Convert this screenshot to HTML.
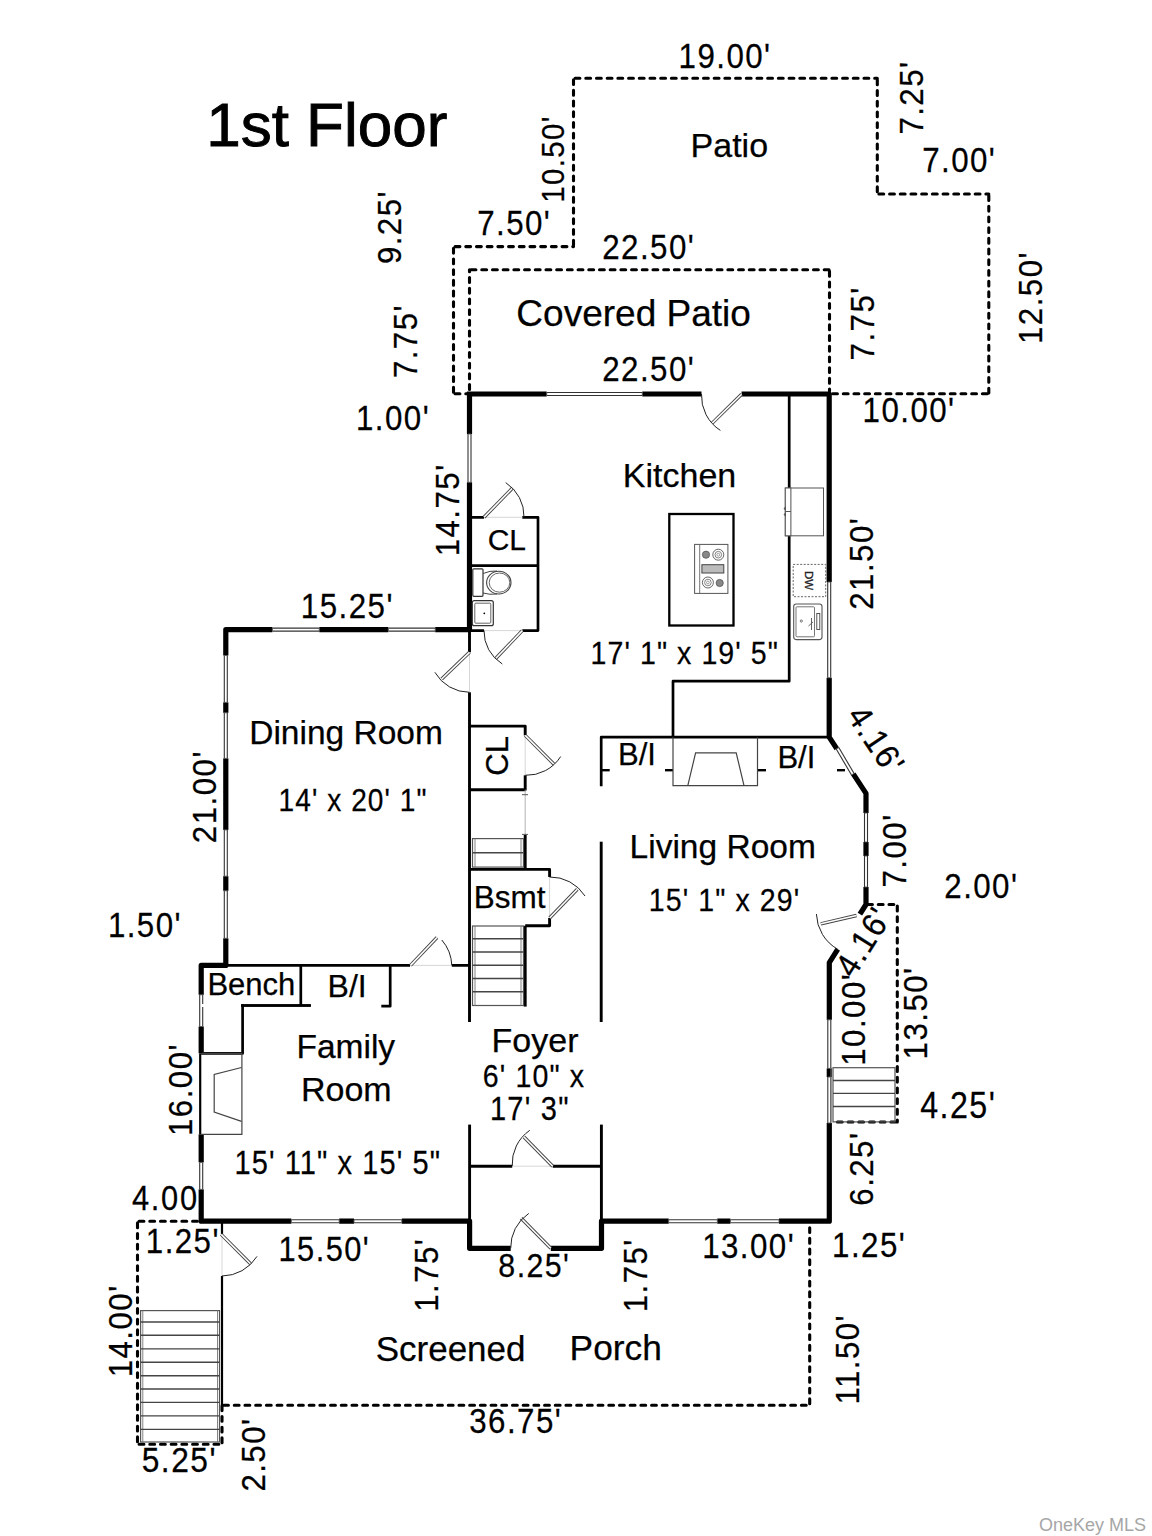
<!DOCTYPE html>
<html><head><meta charset="utf-8"><style>
html,body{margin:0;padding:0;background:#fff;}
svg{display:block;}
text{font-family:"Liberation Sans",sans-serif;}
</style></head><body>
<svg width="1152" height="1536" viewBox="0 0 1152 1536">
<rect width="1152" height="1536" fill="#fff"/>
<path d="M453.5,393.8 L453.5,246.6" fill="none" stroke="#000" stroke-width="3.1" stroke-dasharray="4.8 5.9" stroke-dashoffset="-1.6" stroke-linecap="round"/>
<path d="M453.5,246.6 L573.5,246.6" fill="none" stroke="#000" stroke-width="3.1" stroke-dasharray="4.8 5.9" stroke-dashoffset="-1.6" stroke-linecap="round"/>
<path d="M573.5,246.6 L573.5,78.3" fill="none" stroke="#000" stroke-width="3.1" stroke-dasharray="4.8 5.9" stroke-dashoffset="-1.6" stroke-linecap="round"/>
<path d="M573.5,78.3 L877.3,78.3" fill="none" stroke="#000" stroke-width="3.1" stroke-dasharray="4.8 5.9" stroke-dashoffset="-1.6" stroke-linecap="round"/>
<path d="M877.3,78.3 L877.3,194" fill="none" stroke="#000" stroke-width="3.1" stroke-dasharray="4.8 5.9" stroke-dashoffset="-1.6" stroke-linecap="round"/>
<path d="M877.3,194 L988.8,194" fill="none" stroke="#000" stroke-width="3.1" stroke-dasharray="4.8 5.9" stroke-dashoffset="-1.6" stroke-linecap="round"/>
<path d="M988.8,194 L988.8,393.8" fill="none" stroke="#000" stroke-width="3.1" stroke-dasharray="4.8 5.9" stroke-dashoffset="-1.6" stroke-linecap="round"/>
<path d="M988.8,393.8 L832,393.8" fill="none" stroke="#000" stroke-width="3.1" stroke-dasharray="4.8 5.9" stroke-dashoffset="-1.6" stroke-linecap="round"/>
<path d="M453.5,393.8 L467,393.8" fill="none" stroke="#000" stroke-width="3.1" stroke-dasharray="4.8 5.9" stroke-dashoffset="-1.6" stroke-linecap="round"/>
<path d="M469.5,391 L469.5,269.8" fill="none" stroke="#000" stroke-width="3.1" stroke-dasharray="4.8 5.9" stroke-dashoffset="-1.6" stroke-linecap="round"/>
<path d="M469.5,269.8 L829.5,269.8" fill="none" stroke="#000" stroke-width="3.1" stroke-dasharray="4.8 5.9" stroke-dashoffset="-1.6" stroke-linecap="round"/>
<path d="M829.5,269.8 L829.5,391" fill="none" stroke="#000" stroke-width="3.1" stroke-dasharray="4.8 5.9" stroke-dashoffset="-1.6" stroke-linecap="round"/>
<path d="M866,904.5 L897.3,904.5" fill="none" stroke="#000" stroke-width="3.1" stroke-dasharray="4.8 5.9" stroke-dashoffset="-1.6" stroke-linecap="round"/>
<path d="M897.3,904.5 L897.3,1122" fill="none" stroke="#000" stroke-width="3.1" stroke-dasharray="4.8 5.9" stroke-dashoffset="-1.6" stroke-linecap="round"/>
<path d="M897.3,1122 L833,1122" fill="none" stroke="#000" stroke-width="3.1" stroke-dasharray="4.8 5.9" stroke-dashoffset="-1.6" stroke-linecap="round"/>
<path d="M199,1221.3 L137.5,1221.3" fill="none" stroke="#000" stroke-width="3.1" stroke-dasharray="4.8 5.9" stroke-dashoffset="-1.6" stroke-linecap="round"/>
<path d="M137.5,1221.3 L137.5,1444.3" fill="none" stroke="#000" stroke-width="3.1" stroke-dasharray="4.8 5.9" stroke-dashoffset="-1.6" stroke-linecap="round"/>
<path d="M137.5,1444.3 L222,1444.3" fill="none" stroke="#000" stroke-width="3.1" stroke-dasharray="4.8 5.9" stroke-dashoffset="-1.6" stroke-linecap="round"/>
<path d="M222,1444.3 L222,1405.3" fill="none" stroke="#000" stroke-width="3.1" stroke-dasharray="4.8 5.9" stroke-dashoffset="-1.6" stroke-linecap="round"/>
<path d="M222,1405.3 L809.7,1405.3" fill="none" stroke="#000" stroke-width="3.1" stroke-dasharray="4.8 5.9" stroke-dashoffset="-1.6" stroke-linecap="round"/>
<path d="M809.7,1405.3 L809.7,1224" fill="none" stroke="#000" stroke-width="3.1" stroke-dasharray="4.8 5.9" stroke-dashoffset="-1.6" stroke-linecap="round"/>
<line x1="222" y1="1223" x2="222" y2="1234.4" stroke="#000" stroke-width="2.2" stroke-linecap="butt"/>
<line x1="222" y1="1276" x2="222" y2="1405.3" stroke="#000" stroke-width="2.2" stroke-linecap="butt"/>
<path d="M469.5,394 L829.2,394 L829.2,737.2 L866,793.4 L866,904.5 L829.3,962.6 L829.3,1221.2 L601.5,1221.2 L601.5,1248.3 L469.6,1248.3 L469.6,1221.2 L201.2,1221.2 L201.2,965.4 L225.8,965.4 L225.8,629.6 L469.5,629.6 L469.5,394" fill="none" stroke="#000" stroke-width="5.2" stroke-linejoin="round" stroke-linecap="square"/>
<line x1="546.7" y1="394" x2="642.3" y2="394" stroke="#fff" stroke-width="7.5"/>
<line x1="546.70" y1="392.50" x2="642.30" y2="392.50" stroke="#333" stroke-width="1.1"/>
<line x1="546.70" y1="395.50" x2="642.30" y2="395.50" stroke="#333" stroke-width="1.1"/>
<line x1="546.70" y1="392.50" x2="546.70" y2="395.50" stroke="#555" stroke-width="0.9"/>
<line x1="642.30" y1="392.50" x2="642.30" y2="395.50" stroke="#555" stroke-width="0.9"/>
<line x1="469.5" y1="434" x2="469.5" y2="482.3" stroke="#fff" stroke-width="7.5"/>
<line x1="471.00" y1="434.00" x2="471.00" y2="482.30" stroke="#333" stroke-width="1.1"/>
<line x1="468.00" y1="434.00" x2="468.00" y2="482.30" stroke="#333" stroke-width="1.1"/>
<line x1="471.00" y1="434.00" x2="468.00" y2="434.00" stroke="#555" stroke-width="0.9"/>
<line x1="471.00" y1="482.30" x2="468.00" y2="482.30" stroke="#555" stroke-width="0.9"/>
<line x1="829.2" y1="582" x2="829.2" y2="677.8" stroke="#fff" stroke-width="7.5"/>
<line x1="830.70" y1="582.00" x2="830.70" y2="677.80" stroke="#333" stroke-width="1.1"/>
<line x1="827.70" y1="582.00" x2="827.70" y2="677.80" stroke="#333" stroke-width="1.1"/>
<line x1="830.70" y1="582.00" x2="827.70" y2="582.00" stroke="#555" stroke-width="0.9"/>
<line x1="830.70" y1="677.80" x2="827.70" y2="677.80" stroke="#555" stroke-width="0.9"/>
<line x1="837.5" y1="748.3" x2="852.8" y2="774.2" stroke="#fff" stroke-width="7.5"/>
<line x1="838.79" y1="747.54" x2="854.09" y2="773.44" stroke="#333" stroke-width="1.1"/>
<line x1="836.21" y1="749.06" x2="851.51" y2="774.96" stroke="#333" stroke-width="1.1"/>
<line x1="838.79" y1="747.54" x2="836.21" y2="749.06" stroke="#555" stroke-width="0.9"/>
<line x1="854.09" y1="773.44" x2="851.51" y2="774.96" stroke="#555" stroke-width="0.9"/>
<line x1="866" y1="813" x2="866" y2="842" stroke="#fff" stroke-width="7.5"/>
<line x1="867.50" y1="813.00" x2="867.50" y2="842.00" stroke="#333" stroke-width="1.1"/>
<line x1="864.50" y1="813.00" x2="864.50" y2="842.00" stroke="#333" stroke-width="1.1"/>
<line x1="867.50" y1="813.00" x2="864.50" y2="813.00" stroke="#555" stroke-width="0.9"/>
<line x1="867.50" y1="842.00" x2="864.50" y2="842.00" stroke="#555" stroke-width="0.9"/>
<line x1="866" y1="856" x2="866" y2="887" stroke="#fff" stroke-width="7.5"/>
<line x1="867.50" y1="856.00" x2="867.50" y2="887.00" stroke="#333" stroke-width="1.1"/>
<line x1="864.50" y1="856.00" x2="864.50" y2="887.00" stroke="#333" stroke-width="1.1"/>
<line x1="867.50" y1="856.00" x2="864.50" y2="856.00" stroke="#555" stroke-width="0.9"/>
<line x1="867.50" y1="887.00" x2="864.50" y2="887.00" stroke="#555" stroke-width="0.9"/>
<line x1="829.3" y1="1019.8" x2="829.3" y2="1068.4" stroke="#fff" stroke-width="7.5"/>
<line x1="830.80" y1="1019.80" x2="830.80" y2="1068.40" stroke="#333" stroke-width="1.1"/>
<line x1="827.80" y1="1019.80" x2="827.80" y2="1068.40" stroke="#333" stroke-width="1.1"/>
<line x1="830.80" y1="1019.80" x2="827.80" y2="1019.80" stroke="#555" stroke-width="0.9"/>
<line x1="830.80" y1="1068.40" x2="827.80" y2="1068.40" stroke="#555" stroke-width="0.9"/>
<line x1="829.3" y1="1077" x2="829.3" y2="1123" stroke="#fff" stroke-width="7.5"/>
<line x1="830.80" y1="1077.00" x2="830.80" y2="1123.00" stroke="#333" stroke-width="1.1"/>
<line x1="827.80" y1="1077.00" x2="827.80" y2="1123.00" stroke="#333" stroke-width="1.1"/>
<line x1="830.80" y1="1077.00" x2="827.80" y2="1077.00" stroke="#555" stroke-width="0.9"/>
<line x1="830.80" y1="1123.00" x2="827.80" y2="1123.00" stroke="#555" stroke-width="0.9"/>
<line x1="668.7" y1="1221.2" x2="717.3" y2="1221.2" stroke="#fff" stroke-width="7.5"/>
<line x1="668.70" y1="1219.70" x2="717.30" y2="1219.70" stroke="#333" stroke-width="1.1"/>
<line x1="668.70" y1="1222.70" x2="717.30" y2="1222.70" stroke="#333" stroke-width="1.1"/>
<line x1="668.70" y1="1219.70" x2="668.70" y2="1222.70" stroke="#555" stroke-width="0.9"/>
<line x1="717.30" y1="1219.70" x2="717.30" y2="1222.70" stroke="#555" stroke-width="0.9"/>
<line x1="730.4" y1="1221.2" x2="779" y2="1221.2" stroke="#fff" stroke-width="7.5"/>
<line x1="730.40" y1="1219.70" x2="779.00" y2="1219.70" stroke="#333" stroke-width="1.1"/>
<line x1="730.40" y1="1222.70" x2="779.00" y2="1222.70" stroke="#333" stroke-width="1.1"/>
<line x1="730.40" y1="1219.70" x2="730.40" y2="1222.70" stroke="#555" stroke-width="0.9"/>
<line x1="779.00" y1="1219.70" x2="779.00" y2="1222.70" stroke="#555" stroke-width="0.9"/>
<line x1="291.3" y1="1221.2" x2="339.2" y2="1221.2" stroke="#fff" stroke-width="7.5"/>
<line x1="291.30" y1="1219.70" x2="339.20" y2="1219.70" stroke="#333" stroke-width="1.1"/>
<line x1="291.30" y1="1222.70" x2="339.20" y2="1222.70" stroke="#333" stroke-width="1.1"/>
<line x1="291.30" y1="1219.70" x2="291.30" y2="1222.70" stroke="#555" stroke-width="0.9"/>
<line x1="339.20" y1="1219.70" x2="339.20" y2="1222.70" stroke="#555" stroke-width="0.9"/>
<line x1="354" y1="1221.2" x2="401.8" y2="1221.2" stroke="#fff" stroke-width="7.5"/>
<line x1="354.00" y1="1219.70" x2="401.80" y2="1219.70" stroke="#333" stroke-width="1.1"/>
<line x1="354.00" y1="1222.70" x2="401.80" y2="1222.70" stroke="#333" stroke-width="1.1"/>
<line x1="354.00" y1="1219.70" x2="354.00" y2="1222.70" stroke="#555" stroke-width="0.9"/>
<line x1="401.80" y1="1219.70" x2="401.80" y2="1222.70" stroke="#555" stroke-width="0.9"/>
<line x1="201.2" y1="994.8" x2="201.2" y2="1026.5" stroke="#fff" stroke-width="7.5"/>
<line x1="202.70" y1="994.80" x2="202.70" y2="1026.50" stroke="#333" stroke-width="1.1"/>
<line x1="199.70" y1="994.80" x2="199.70" y2="1026.50" stroke="#333" stroke-width="1.1"/>
<line x1="202.70" y1="994.80" x2="199.70" y2="994.80" stroke="#555" stroke-width="0.9"/>
<line x1="202.70" y1="1026.50" x2="199.70" y2="1026.50" stroke="#555" stroke-width="0.9"/>
<line x1="201.2" y1="1162.4" x2="201.2" y2="1189.4" stroke="#fff" stroke-width="7.5"/>
<line x1="202.70" y1="1162.40" x2="202.70" y2="1189.40" stroke="#333" stroke-width="1.1"/>
<line x1="199.70" y1="1162.40" x2="199.70" y2="1189.40" stroke="#333" stroke-width="1.1"/>
<line x1="202.70" y1="1162.40" x2="199.70" y2="1162.40" stroke="#555" stroke-width="0.9"/>
<line x1="202.70" y1="1189.40" x2="199.70" y2="1189.40" stroke="#555" stroke-width="0.9"/>
<line x1="225.8" y1="655.5" x2="225.8" y2="702.4" stroke="#fff" stroke-width="7.5"/>
<line x1="227.30" y1="655.50" x2="227.30" y2="702.40" stroke="#333" stroke-width="1.1"/>
<line x1="224.30" y1="655.50" x2="224.30" y2="702.40" stroke="#333" stroke-width="1.1"/>
<line x1="227.30" y1="655.50" x2="224.30" y2="655.50" stroke="#555" stroke-width="0.9"/>
<line x1="227.30" y1="702.40" x2="224.30" y2="702.40" stroke="#555" stroke-width="0.9"/>
<line x1="225.8" y1="712.8" x2="225.8" y2="758.4" stroke="#fff" stroke-width="7.5"/>
<line x1="227.30" y1="712.80" x2="227.30" y2="758.40" stroke="#333" stroke-width="1.1"/>
<line x1="224.30" y1="712.80" x2="224.30" y2="758.40" stroke="#333" stroke-width="1.1"/>
<line x1="227.30" y1="712.80" x2="224.30" y2="712.80" stroke="#555" stroke-width="0.9"/>
<line x1="227.30" y1="758.40" x2="224.30" y2="758.40" stroke="#555" stroke-width="0.9"/>
<line x1="225.8" y1="829.9" x2="225.8" y2="876.2" stroke="#fff" stroke-width="7.5"/>
<line x1="227.30" y1="829.90" x2="227.30" y2="876.20" stroke="#333" stroke-width="1.1"/>
<line x1="224.30" y1="829.90" x2="224.30" y2="876.20" stroke="#333" stroke-width="1.1"/>
<line x1="227.30" y1="829.90" x2="224.30" y2="829.90" stroke="#555" stroke-width="0.9"/>
<line x1="227.30" y1="876.20" x2="224.30" y2="876.20" stroke="#555" stroke-width="0.9"/>
<line x1="225.8" y1="890.8" x2="225.8" y2="938.3" stroke="#fff" stroke-width="7.5"/>
<line x1="227.30" y1="890.80" x2="227.30" y2="938.30" stroke="#333" stroke-width="1.1"/>
<line x1="224.30" y1="890.80" x2="224.30" y2="938.30" stroke="#333" stroke-width="1.1"/>
<line x1="227.30" y1="890.80" x2="224.30" y2="890.80" stroke="#555" stroke-width="0.9"/>
<line x1="227.30" y1="938.30" x2="224.30" y2="938.30" stroke="#555" stroke-width="0.9"/>
<line x1="272.4" y1="629.6" x2="319.3" y2="629.6" stroke="#fff" stroke-width="7.5"/>
<line x1="272.40" y1="628.10" x2="319.30" y2="628.10" stroke="#333" stroke-width="1.1"/>
<line x1="272.40" y1="631.10" x2="319.30" y2="631.10" stroke="#333" stroke-width="1.1"/>
<line x1="272.40" y1="628.10" x2="272.40" y2="631.10" stroke="#555" stroke-width="0.9"/>
<line x1="319.30" y1="628.10" x2="319.30" y2="631.10" stroke="#555" stroke-width="0.9"/>
<line x1="388.3" y1="629.6" x2="435.2" y2="629.6" stroke="#fff" stroke-width="7.5"/>
<line x1="388.30" y1="628.10" x2="435.20" y2="628.10" stroke="#333" stroke-width="1.1"/>
<line x1="388.30" y1="631.10" x2="435.20" y2="631.10" stroke="#333" stroke-width="1.1"/>
<line x1="388.30" y1="628.10" x2="388.30" y2="631.10" stroke="#555" stroke-width="0.9"/>
<line x1="435.20" y1="628.10" x2="435.20" y2="631.10" stroke="#555" stroke-width="0.9"/>
<line x1="201.2" y1="1053.4" x2="201.2" y2="1134.3" stroke="#fff" stroke-width="7.5"/>
<line x1="200.2" y1="1053.4" x2="200.2" y2="1134.3" stroke="#000" stroke-width="2.2" stroke-linecap="butt"/>
<path d="M469.5,629.6 L469.5,1022" fill="none" stroke="#000" stroke-width="2.9" stroke-linejoin="round" stroke-linecap="butt"/>
<path d="M469.6,1124.6 L469.6,1221.2" fill="none" stroke="#000" stroke-width="2.9" stroke-linejoin="round" stroke-linecap="butt"/>
<path d="M601.4,1124.6 L601.4,1221.2" fill="none" stroke="#000" stroke-width="2.9" stroke-linejoin="round" stroke-linecap="butt"/>
<path d="M601.2,841.7 L601.2,1022" fill="none" stroke="#000" stroke-width="2.9" stroke-linejoin="round" stroke-linecap="butt"/>
<path d="M469.6,1166.2 L601.4,1166.2" fill="none" stroke="#000" stroke-width="2.9" stroke-linejoin="round" stroke-linecap="butt"/>
<path d="M789.2,394 L789.2,681.2 L673,681.2 L673,737.2" fill="none" stroke="#000" stroke-width="2.7" stroke-linejoin="round" stroke-linecap="butt"/>
<path d="M601.2,786.3 L601.2,737.2 L828.4,737.2" fill="none" stroke="#000" stroke-width="2.7" stroke-linejoin="round" stroke-linecap="butt"/>
<line x1="601.2" y1="770.2" x2="609.7" y2="770.2" stroke="#000" stroke-width="2.4" stroke-linecap="butt"/>
<line x1="665" y1="770.2" x2="673" y2="770.2" stroke="#000" stroke-width="2.4" stroke-linecap="butt"/>
<line x1="757.5" y1="770.2" x2="766" y2="770.2" stroke="#000" stroke-width="2.4" stroke-linecap="butt"/>
<line x1="837" y1="770.2" x2="845" y2="770.2" stroke="#000" stroke-width="2.4" stroke-linecap="butt"/>
<path d="M673,737.2 V785.6 H757.5 V737.2" fill="none" stroke="#444" stroke-width="1.2"/>
<path d="M687.8,785.6 L695.6,752.8 H736.2 L744,785.6" fill="none" stroke="#444" stroke-width="1.2"/>
<path d="M469.5,517.3 L538,517.3 L538,630.6 L469.5,630.6" fill="none" stroke="#000" stroke-width="2.7" stroke-linejoin="round" stroke-linecap="butt"/>
<line x1="469.5" y1="565.7" x2="538" y2="565.7" stroke="#000" stroke-width="2.7" stroke-linecap="butt"/>
<line x1="484" y1="517.3" x2="522.3" y2="517.3" stroke="#fff" stroke-width="5"/>
<line x1="484" y1="517.3" x2="522.3" y2="517.3" stroke="#ccc" stroke-width="0.8"/>
<line x1="484" y1="630.6" x2="522.3" y2="630.6" stroke="#fff" stroke-width="5"/>
<line x1="484" y1="630.6" x2="522.3" y2="630.6" stroke="#ccc" stroke-width="0.8"/>
<line x1="484" y1="517.3" x2="512.3" y2="488.3" stroke="#444" stroke-width="3.4"/>
<line x1="484" y1="517.3" x2="512.3" y2="488.3" stroke="#fff" stroke-width="1.6"/>
<path d="M505.7,482.6 A40,40 0 0 1 524,517.3" fill="none" stroke="#222" stroke-width="1"/>
<line x1="522.3" y1="630.6" x2="495.7" y2="658.5" stroke="#444" stroke-width="3.4"/>
<line x1="522.3" y1="630.6" x2="495.7" y2="658.5" stroke="#fff" stroke-width="1.6"/>
<path d="M484,630.6 A38.5,38.5 0 0 0 502.3,664" fill="none" stroke="#222" stroke-width="1"/>
<rect x="472.8" y="568.8" width="10.2" height="27.5" rx="1" fill="none" stroke="#333" stroke-width="1.2"/>
<path d="M483,573.5 Q490,570.5 497,571 M483,593 Q490,595 497,594" fill="none" stroke="#444" stroke-width="1"/>
<ellipse cx="498.8" cy="582.6" rx="12.2" ry="11.4" fill="none" stroke="#444" stroke-width="1.1"/>
<ellipse cx="499.5" cy="582.6" rx="10.3" ry="9.6" fill="none" stroke="#555" stroke-width="0.9"/>
<rect x="472.3" y="600.7" width="21" height="25" rx="2" fill="none" stroke="#333" stroke-width="1.2"/>
<rect x="474.8" y="603.2" width="16" height="20" rx="1" fill="none" stroke="#555" stroke-width="0.9"/>
<circle cx="484.3" cy="613.3" r="0.9" fill="#000"/>
<line x1="469.5" y1="652.3" x2="469.5" y2="692.3" stroke="#fff" stroke-width="5"/>
<line x1="469.5" y1="652.3" x2="469.5" y2="692.3" stroke="#ccc" stroke-width="0.8"/>
<line x1="469.5" y1="652.3" x2="441.7" y2="679" stroke="#444" stroke-width="3.4"/>
<line x1="469.5" y1="652.3" x2="441.7" y2="679" stroke="#fff" stroke-width="1.6"/>
<path d="M469.5,692.3 A40,40 0 0 1 434.9,672.3" fill="none" stroke="#222" stroke-width="1"/>
<line x1="701.5" y1="394" x2="741.6" y2="394" stroke="#fff" stroke-width="7.5"/>
<line x1="741.6" y1="394.3" x2="712.2" y2="423.1" stroke="#444" stroke-width="3.4"/>
<line x1="741.6" y1="394.3" x2="712.2" y2="423.1" stroke="#fff" stroke-width="1.6"/>
<path d="M701.5,394 A41,41 0 0 0 720.4,430.4" fill="none" stroke="#222" stroke-width="1"/>
<path d="M469.5,726.1 L525.2,726.1 L525.2,789.7 L469.5,789.7" fill="none" stroke="#000" stroke-width="2.9" stroke-linejoin="round" stroke-linecap="butt"/>
<line x1="525.2" y1="735.4" x2="525.2" y2="775.3" stroke="#fff" stroke-width="5"/>
<line x1="525.2" y1="735.4" x2="525.2" y2="775.3" stroke="#ccc" stroke-width="0.8"/>
<line x1="525.2" y1="735.4" x2="554" y2="764.2" stroke="#444" stroke-width="3.4"/>
<line x1="525.2" y1="735.4" x2="554" y2="764.2" stroke="#fff" stroke-width="1.6"/>
<path d="M560.7,756.5 A40.5,40.5 0 0 1 525.2,775.3" fill="none" stroke="#222" stroke-width="1"/>
<line x1="525.2" y1="789.7" x2="525.2" y2="835" stroke="#aaa" stroke-width="0.9" stroke-linecap="butt"/>
<line x1="522" y1="794.7" x2="528" y2="794.7" stroke="#555" stroke-width="1" stroke-linecap="butt"/>
<line x1="522" y1="834.4" x2="528" y2="834.4" stroke="#555" stroke-width="1" stroke-linecap="butt"/>
<path d="M525.2,835 L525.2,869.4" fill="none" stroke="#000" stroke-width="2.9" stroke-linejoin="round" stroke-linecap="butt"/>
<rect x="472.5" y="838.6" width="51" height="28.5" fill="none" stroke="#555" stroke-width="1.2"/>
<line x1="475" y1="838.6" x2="475" y2="867.1" stroke="#777" stroke-width="0.9" stroke-linecap="butt"/>
<line x1="521" y1="838.6" x2="521" y2="867.1" stroke="#777" stroke-width="0.9" stroke-linecap="butt"/>
<line x1="472.5" y1="852.8" x2="523.5" y2="852.8" stroke="#444" stroke-width="1.4" stroke-linecap="butt"/>
<path d="M469.5,869.4 L549.6,869.4 L549.6,925.8 L525.2,925.8" fill="none" stroke="#000" stroke-width="2.9" stroke-linejoin="round" stroke-linecap="butt"/>
<line x1="549.6" y1="877" x2="549.6" y2="918" stroke="#fff" stroke-width="5"/>
<line x1="549.6" y1="877" x2="549.6" y2="918" stroke="#ccc" stroke-width="0.8"/>
<line x1="549.6" y1="918" x2="577.3" y2="889.3" stroke="#444" stroke-width="3.4"/>
<line x1="549.6" y1="918" x2="577.3" y2="889.3" stroke="#fff" stroke-width="1.6"/>
<path d="M549.6,877 A41,41 0 0 1 585,896" fill="none" stroke="#222" stroke-width="1"/>
<path d="M525.2,925.8 L525.2,1006.6" fill="none" stroke="#000" stroke-width="2.9" stroke-linejoin="round" stroke-linecap="butt"/>
<rect x="472.5" y="926" width="51" height="79.5" fill="none" stroke="#555" stroke-width="1.2"/>
<line x1="475" y1="926" x2="475" y2="1005.5" stroke="#777" stroke-width="0.9" stroke-linecap="butt"/>
<line x1="521" y1="926" x2="521" y2="1005.5" stroke="#777" stroke-width="0.9" stroke-linecap="butt"/>
<line x1="472.5" y1="938.7" x2="523.5" y2="938.7" stroke="#444" stroke-width="1.4" stroke-linecap="butt"/>
<line x1="472.5" y1="952" x2="523.5" y2="952" stroke="#444" stroke-width="1.4" stroke-linecap="butt"/>
<line x1="472.5" y1="965.2" x2="523.5" y2="965.2" stroke="#444" stroke-width="1.4" stroke-linecap="butt"/>
<line x1="472.5" y1="978.5" x2="523.5" y2="978.5" stroke="#444" stroke-width="1.4" stroke-linecap="butt"/>
<line x1="472.5" y1="991.8" x2="523.5" y2="991.8" stroke="#444" stroke-width="1.4" stroke-linecap="butt"/>
<path d="M225.8,965.4 L469.5,965.4" fill="none" stroke="#000" stroke-width="2.9" stroke-linejoin="round" stroke-linecap="butt"/>
<line x1="410" y1="965.4" x2="451.8" y2="965.4" stroke="#fff" stroke-width="5"/>
<line x1="410" y1="965.4" x2="451.8" y2="965.4" stroke="#ccc" stroke-width="0.8"/>
<line x1="410.5" y1="965.4" x2="437" y2="937.5" stroke="#444" stroke-width="3.4"/>
<line x1="410.5" y1="965.4" x2="437" y2="937.5" stroke="#fff" stroke-width="1.6"/>
<path d="M441.8,940 A41,41 0 0 1 451.8,965.4" fill="none" stroke="#222" stroke-width="1"/>
<path d="M300.8,965.4 L300.8,1005.5" fill="none" stroke="#000" stroke-width="2.7" stroke-linejoin="round" stroke-linecap="butt"/>
<path d="M201.2,1005.5 L310.8,1005.5" fill="none" stroke="#000" stroke-width="2.7" stroke-linejoin="round" stroke-linecap="butt"/>
<rect x="201" y="1004" width="40" height="3" fill="#fff"/>
<path d="M241.6,1005.5 L310.8,1005.5" fill="none" stroke="#000" stroke-width="2.7" stroke-linejoin="round" stroke-linecap="butt"/>
<path d="M242.6,1004.2 L242.6,1053.4 L201.2,1053.4" fill="none" stroke="#000" stroke-width="2.7" stroke-linejoin="round" stroke-linecap="butt"/>
<path d="M381.3,1006.2 L390.2,1006.2 L390.2,965.4" fill="none" stroke="#000" stroke-width="2.7" stroke-linejoin="round" stroke-linecap="butt"/>
<path d="M201.5,1053.4 H241.9 V1134.3 H201.5" fill="none" stroke="#444" stroke-width="1.2"/>
<path d="M241.5,1067.5 L214.2,1074.5 V1112 L241.5,1121.4" fill="none" stroke="#444" stroke-width="1.2"/>
<line x1="512.2" y1="1166.2" x2="552.7" y2="1166.2" stroke="#fff" stroke-width="5"/>
<line x1="512.2" y1="1166.2" x2="552.7" y2="1166.2" stroke="#ccc" stroke-width="0.8"/>
<line x1="552.7" y1="1166.2" x2="524" y2="1137" stroke="#444" stroke-width="3.4"/>
<line x1="552.7" y1="1166.2" x2="524" y2="1137" stroke="#fff" stroke-width="1.6"/>
<path d="M529.8,1130.3 A41,41 0 0 0 512.2,1166.2" fill="none" stroke="#222" stroke-width="1"/>
<line x1="510.7" y1="1248.3" x2="550.8" y2="1248.3" stroke="#fff" stroke-width="7.5"/>
<line x1="550.8" y1="1248.3" x2="521.2" y2="1218.2" stroke="#444" stroke-width="3.4"/>
<line x1="550.8" y1="1248.3" x2="521.2" y2="1218.2" stroke="#fff" stroke-width="1.6"/>
<path d="M528.8,1213.4 A41,41 0 0 0 510.7,1248.3" fill="none" stroke="#222" stroke-width="1"/>
<line x1="859.7" y1="914" x2="837.8" y2="949.3" stroke="#fff" stroke-width="7.5"/>
<line x1="856.5" y1="915.5" x2="820.8" y2="923.8" stroke="#444" stroke-width="3.4"/>
<line x1="856.5" y1="915.5" x2="820.8" y2="923.8" stroke="#fff" stroke-width="1.6"/>
<path d="M816.4,914 A42,42 0 0 0 837.8,949.3" fill="none" stroke="#222" stroke-width="1"/>
<rect x="833" y="1067.7" width="62" height="54.2" fill="none" stroke="#555" stroke-width="1.2"/>
<line x1="831" y1="1067.7" x2="831" y2="1121.9" stroke="#777" stroke-width="0.9" stroke-linecap="butt"/>
<line x1="833" y1="1080.5" x2="895" y2="1080.5" stroke="#444" stroke-width="1.4" stroke-linecap="butt"/>
<line x1="833" y1="1093.4" x2="895" y2="1093.4" stroke="#444" stroke-width="1.4" stroke-linecap="butt"/>
<line x1="833" y1="1106.5" x2="895" y2="1106.5" stroke="#444" stroke-width="1.4" stroke-linecap="butt"/>
<rect x="140.6" y="1310.6" width="78.9" height="131.4" fill="none" stroke="#555" stroke-width="1.2"/>
<line x1="142.8" y1="1310.6" x2="142.8" y2="1442" stroke="#777" stroke-width="0.9" stroke-linecap="butt"/>
<line x1="217.5" y1="1310.6" x2="217.5" y2="1442" stroke="#777" stroke-width="0.9" stroke-linecap="butt"/>
<line x1="140.6" y1="1322" x2="219.5" y2="1322" stroke="#444" stroke-width="1.4" stroke-linecap="butt"/>
<line x1="140.6" y1="1335.3" x2="219.5" y2="1335.3" stroke="#444" stroke-width="1.4" stroke-linecap="butt"/>
<line x1="140.6" y1="1348.9" x2="219.5" y2="1348.9" stroke="#444" stroke-width="1.4" stroke-linecap="butt"/>
<line x1="140.6" y1="1362.2" x2="219.5" y2="1362.2" stroke="#444" stroke-width="1.4" stroke-linecap="butt"/>
<line x1="140.6" y1="1375.7" x2="219.5" y2="1375.7" stroke="#444" stroke-width="1.4" stroke-linecap="butt"/>
<line x1="140.6" y1="1389" x2="219.5" y2="1389" stroke="#444" stroke-width="1.4" stroke-linecap="butt"/>
<line x1="140.6" y1="1402.4" x2="219.5" y2="1402.4" stroke="#444" stroke-width="1.4" stroke-linecap="butt"/>
<line x1="140.6" y1="1415.9" x2="219.5" y2="1415.9" stroke="#444" stroke-width="1.4" stroke-linecap="butt"/>
<line x1="140.6" y1="1429.4" x2="219.5" y2="1429.4" stroke="#444" stroke-width="1.4" stroke-linecap="butt"/>
<line x1="222" y1="1234.4" x2="222" y2="1276" stroke="#fff" stroke-width="3"/>
<line x1="222" y1="1234.4" x2="222" y2="1276" stroke="#ccc" stroke-width="0.8"/>
<line x1="221.2" y1="1234.4" x2="250.5" y2="1263.7" stroke="#444" stroke-width="3.4"/>
<line x1="221.2" y1="1234.4" x2="250.5" y2="1263.7" stroke="#fff" stroke-width="1.6"/>
<path d="M257,1256.4 A41.6,41.6 0 0 1 222,1276" fill="none" stroke="#222" stroke-width="1"/>
<rect x="669.3" y="514" width="64.2" height="111.5" fill="none" stroke="#000" stroke-width="2.3"/>
<rect x="694.6" y="544.4" width="33.3" height="49" fill="none" stroke="#555" stroke-width="1"/>
<line x1="699.7" y1="544.4" x2="699.7" y2="593.4" stroke="#666" stroke-width="0.9" stroke-linecap="butt"/>
<circle cx="706" cy="554.7" r="3.6" fill="#888" stroke="#555" stroke-width="0.8"/>
<circle cx="718.3" cy="554.7" r="5.5" fill="none" stroke="#555" stroke-width="0.9"/>
<circle cx="718.3" cy="554.7" r="3.30" fill="none" stroke="#666" stroke-width="0.8"/>
<circle cx="718.3" cy="554.7" r="1.38" fill="none" stroke="#777" stroke-width="0.7"/>
<circle cx="707.9" cy="582.5" r="5.5" fill="none" stroke="#555" stroke-width="0.9"/>
<circle cx="707.9" cy="582.5" r="3.30" fill="none" stroke="#666" stroke-width="0.8"/>
<circle cx="707.9" cy="582.5" r="1.38" fill="none" stroke="#777" stroke-width="0.7"/>
<circle cx="719.7" cy="583" r="3.6" fill="#888" stroke="#555" stroke-width="0.8"/>
<rect x="701.9" y="564.7" width="21.9" height="8.3" fill="#bbb" stroke="#444" stroke-width="1"/>
<rect x="785.3" y="488" width="38.2" height="47.8" fill="none" stroke="#555" stroke-width="1"/>
<rect x="785.3" y="488" width="5.6" height="47.8" fill="#fff" stroke="#555" stroke-width="1"/>
<line x1="785.3" y1="511.5" x2="790.9" y2="511.5" stroke="#555" stroke-width="1" stroke-linecap="butt"/>
<path d="M783.5,508.5 L786,506 L786,511 Z M783.5,514.5 L786,512 L786,517 Z" fill="#555"/>
<rect x="793.2" y="564.4" width="32.5" height="32.3" fill="none" stroke="#666" stroke-width="1" stroke-dasharray="2 1.5"/>
<text x="0" y="0" font-size="11.5" text-anchor="middle" fill="#222" stroke="#222" stroke-width="0.35" transform="translate(809.3 580.5) rotate(90) translate(0 4)">DW</text>
<rect x="793.7" y="604" width="28.3" height="35.6" rx="2.5" fill="none" stroke="#555" stroke-width="1.1"/>
<rect x="796" y="606.8" width="18.5" height="30" rx="1" fill="none" stroke="#666" stroke-width="0.9"/>
<rect x="816.8" y="613.5" width="3" height="16" fill="none" stroke="#444" stroke-width="0.9"/>
<circle cx="801.3" cy="621" r="1.1" fill="none" stroke="#555" stroke-width="0.8"/>
<path d="M808.5,626 L813,622 M811.5,618 V630" fill="none" stroke="#555" stroke-width="0.9"/>
<text x="326.8" y="146.1" font-size="62" text-anchor="middle" stroke="#000" stroke-width="0.9">1st Floor</text>
<text x="0.7965" y="0" font-size="34" text-anchor="middle" letter-spacing="1.593" stroke="#000" stroke-width="0.25" transform="translate(724.3 68.3) scale(0.92 1.03)">19.00'</text>
<text x="0.0" y="0" font-size="34" text-anchor="middle" stroke="#000" stroke-width="0.25" transform="translate(729.3 157.3) scale(1.0 1.0)">Patio</text>
<text x="0.7895" y="0" font-size="34" text-anchor="middle" letter-spacing="1.579" stroke="#000" stroke-width="0.25" transform="translate(958.5 171.7) scale(0.92 1.03)">7.00'</text>
<text x="0.7895" y="0" font-size="34" text-anchor="middle" letter-spacing="1.579" stroke="#000" stroke-width="0.25" transform="translate(513.5 235) scale(0.92 1.03)">7.50'</text>
<text x="0.7965" y="0" font-size="34" text-anchor="middle" letter-spacing="1.593" stroke="#000" stroke-width="0.25" transform="translate(648 259.3) scale(0.92 1.03)">22.50'</text>
<text x="0.0" y="0" font-size="37" text-anchor="middle" stroke="#000" stroke-width="0.25" transform="translate(633.6 326) scale(1.0 1.0)">Covered Patio</text>
<text x="0.7965" y="0" font-size="34" text-anchor="middle" letter-spacing="1.593" stroke="#000" stroke-width="0.25" transform="translate(648 381) scale(0.92 1.03)">22.50'</text>
<text x="0.7965" y="0" font-size="34" text-anchor="middle" letter-spacing="1.593" stroke="#000" stroke-width="0.25" transform="translate(908.3 421.8) scale(0.92 1.03)">10.00'</text>
<text x="0.7895" y="0" font-size="34" text-anchor="middle" letter-spacing="1.579" stroke="#000" stroke-width="0.25" transform="translate(392.3 430) scale(0.92 1.03)">1.00'</text>
<text x="0.0" y="0" font-size="34" text-anchor="middle" stroke="#000" stroke-width="0.25" transform="translate(679.5 486.7) scale(1.0 1.0)">Kitchen</text>
<text x="0.5815" y="0" font-size="31" text-anchor="middle" letter-spacing="1.163" stroke="#000" stroke-width="0.25" transform="translate(684.2 663.5) scale(0.92 1.03)">17' 1&quot; x 19' 5&quot;</text>
<text x="0.0" y="0" font-size="30" text-anchor="middle" stroke="#000" stroke-width="0.25" transform="translate(506.8 550) scale(1.0 1.0)">CL</text>
<text x="0.7965" y="0" font-size="34" text-anchor="middle" letter-spacing="1.593" stroke="#000" stroke-width="0.25" transform="translate(346.6 617.8) scale(0.92 1.03)">15.25'</text>
<text x="0.0" y="0" font-size="33.5" text-anchor="middle" stroke="#000" stroke-width="0.25" transform="translate(346 743.5) scale(1.0 1.0)">Dining Room</text>
<text x="0.585" y="0" font-size="30.5" text-anchor="middle" letter-spacing="1.17" stroke="#000" stroke-width="0.25" transform="translate(352.5 811.2) scale(0.92 1.03)">14' x 20' 1&quot;</text>
<text x="0.0" y="0" font-size="33.5" text-anchor="middle" stroke="#000" stroke-width="0.25" transform="translate(722.7 857.5) scale(1.0 1.0)">Living Room</text>
<text x="0.5945" y="0" font-size="31" text-anchor="middle" letter-spacing="1.189" stroke="#000" stroke-width="0.25" transform="translate(724 910.6) scale(0.92 1.03)">15' 1&quot; x 29'</text>
<text x="0.0" y="0" font-size="31" text-anchor="middle" stroke="#000" stroke-width="0.25" transform="translate(637 764.6) scale(1.0 1.0)">B/I</text>
<text x="0.0" y="0" font-size="31" text-anchor="middle" stroke="#000" stroke-width="0.25" transform="translate(796.4 767.5) scale(1.0 1.0)">B/I</text>
<text x="0.0" y="0" font-size="31.5" text-anchor="middle" stroke="#000" stroke-width="0.25" transform="translate(509.7 908.1) scale(1.0 1.0)">Bsmt</text>
<text x="0.7895" y="0" font-size="34" text-anchor="middle" letter-spacing="1.579" stroke="#000" stroke-width="0.25" transform="translate(144.2 937.4) scale(0.92 1.03)">1.50'</text>
<text x="0.7895" y="0" font-size="34" text-anchor="middle" letter-spacing="1.579" stroke="#000" stroke-width="0.25" transform="translate(980.6 898.2) scale(0.92 1.03)">2.00'</text>
<text x="0.0" y="0" font-size="31" text-anchor="middle" stroke="#000" stroke-width="0.25" transform="translate(251.4 994.9) scale(1.0 1.0)">Bench</text>
<text x="0.0" y="0" font-size="32" text-anchor="middle" stroke="#000" stroke-width="0.25" transform="translate(347.1 997.4) scale(1.0 1.0)">B/I</text>
<text x="0.0" y="0" font-size="33.5" text-anchor="middle" stroke="#000" stroke-width="0.25" transform="translate(345.8 1057.8) scale(1.0 1.0)">Family</text>
<text x="0.0" y="0" font-size="34" text-anchor="middle" stroke="#000" stroke-width="0.25" transform="translate(346.3 1100.6) scale(1.0 1.0)">Room</text>
<text x="0.5955" y="0" font-size="31.5" text-anchor="middle" letter-spacing="1.191" stroke="#000" stroke-width="0.25" transform="translate(337.3 1174.1) scale(0.92 1.03)">15' 11&quot; x 15' 5&quot;</text>
<text x="0.0" y="0" font-size="34" text-anchor="middle" stroke="#000" stroke-width="0.25" transform="translate(535 1052.4) scale(1.0 1.0)">Foyer</text>
<text x="0.6295" y="0" font-size="31" text-anchor="middle" letter-spacing="1.259" stroke="#000" stroke-width="0.25" transform="translate(533.4 1087.3) scale(0.92 1.03)">6' 10&quot; x</text>
<text x="0.6825" y="0" font-size="31.5" text-anchor="middle" letter-spacing="1.365" stroke="#000" stroke-width="0.25" transform="translate(529.2 1119.8) scale(0.92 1.03)">17' 3&quot;</text>
<text x="0.8125" y="0" font-size="35" text-anchor="middle" letter-spacing="1.625" stroke="#000" stroke-width="0.25" transform="translate(957.5 1118.2) scale(0.92 1.03)">4.25'</text>
<text x="0.9455" y="0" font-size="33.5" text-anchor="middle" letter-spacing="1.891" stroke="#000" stroke-width="0.25" transform="translate(164.5 1210.3) scale(0.92 1.03)">4.00</text>
<text x="0.7895" y="0" font-size="34" text-anchor="middle" letter-spacing="1.579" stroke="#000" stroke-width="0.25" transform="translate(182.1 1252.5) scale(0.92 1.03)">1.25'</text>
<text x="0.785" y="0" font-size="33.5" text-anchor="middle" letter-spacing="1.57" stroke="#000" stroke-width="0.25" transform="translate(323.6 1260.7) scale(0.92 1.03)">15.50'</text>
<text x="0.7665" y="0" font-size="33" text-anchor="middle" letter-spacing="1.533" stroke="#000" stroke-width="0.25" transform="translate(533.6 1277.4) scale(0.92 1.03)">8.25'</text>
<text x="0.7965" y="0" font-size="34" text-anchor="middle" letter-spacing="1.593" stroke="#000" stroke-width="0.25" transform="translate(747.9 1257.8) scale(0.92 1.03)">13.00'</text>
<text x="0.7895" y="0" font-size="34" text-anchor="middle" letter-spacing="1.579" stroke="#000" stroke-width="0.25" transform="translate(868.4 1257) scale(0.92 1.03)">1.25'</text>
<text x="0.0" y="0" font-size="35" text-anchor="middle" stroke="#000" stroke-width="0.25" transform="translate(450.6 1360.8) scale(1.0 1.0)">Screened</text>
<text x="0.0" y="0" font-size="35.3" text-anchor="middle" stroke="#000" stroke-width="0.25" transform="translate(615.7 1359.5) scale(1.0 1.0)">Porch</text>
<text x="0.7965" y="0" font-size="34" text-anchor="middle" letter-spacing="1.593" stroke="#000" stroke-width="0.25" transform="translate(515 1432.8) scale(0.92 1.03)">36.75'</text>
<text x="0.8015" y="0" font-size="34.5" text-anchor="middle" letter-spacing="1.603" stroke="#000" stroke-width="0.25" transform="translate(178.6 1471.8) scale(0.92 1.03)">5.25'</text>
<text x="1092.5" y="1531" font-size="18" text-anchor="middle" fill="#a6a6a6">OneKey MLS</text>
<text x="0.75" y="0" font-size="32" text-anchor="middle" letter-spacing="1.5" stroke="#000" stroke-width="0.25" transform="translate(552.5 159.7) rotate(-90) translate(0 11.46) scale(0.92 1.0)">10.50'</text>
<text x="0.7895" y="0" font-size="34" text-anchor="middle" letter-spacing="1.579" stroke="#000" stroke-width="0.25" transform="translate(389.3 227.8) rotate(-90) translate(0 12.17) scale(0.92 1.0)">9.25'</text>
<text x="0.7895" y="0" font-size="34" text-anchor="middle" letter-spacing="1.579" stroke="#000" stroke-width="0.25" transform="translate(910.5 98.3) rotate(-90) translate(0 12.17) scale(0.92 1.0)">7.25'</text>
<text x="0.7895" y="0" font-size="34" text-anchor="middle" letter-spacing="1.579" stroke="#000" stroke-width="0.25" transform="translate(404.6 341.8) rotate(-90) translate(0 12.17) scale(0.92 1.0)">7.75'</text>
<text x="0.7895" y="0" font-size="34" text-anchor="middle" letter-spacing="1.579" stroke="#000" stroke-width="0.25" transform="translate(861.8 324.1) rotate(-90) translate(0 12.17) scale(0.92 1.0)">7.75'</text>
<text x="0.7965" y="0" font-size="34" text-anchor="middle" letter-spacing="1.593" stroke="#000" stroke-width="0.25" transform="translate(1030.3 298.3) rotate(-90) translate(0 12.17) scale(0.92 1.0)">12.50'</text>
<text x="0.7965" y="0" font-size="34" text-anchor="middle" letter-spacing="1.593" stroke="#000" stroke-width="0.25" transform="translate(446.5 510.6) rotate(-90) translate(0 12.17) scale(0.92 1.0)">14.75'</text>
<text x="0.7965" y="0" font-size="34" text-anchor="middle" letter-spacing="1.593" stroke="#000" stroke-width="0.25" transform="translate(860.8 564) rotate(-90) translate(0 12.17) scale(0.92 1.0)">21.50'</text>
<text x="0.7965" y="0" font-size="34" text-anchor="middle" letter-spacing="1.593" stroke="#000" stroke-width="0.25" transform="translate(203.4 797.4) rotate(-90) translate(0 12.17) scale(0.92 1.0)">21.00'</text>
<text x="0.0" y="0" font-size="31" text-anchor="middle" stroke="#000" stroke-width="0.25" transform="translate(496.4 755.9) rotate(-90) translate(0 11.1) scale(1.0 1.0)">CL</text>
<text x="0.7895" y="0" font-size="34" text-anchor="middle" letter-spacing="1.579" stroke="#000" stroke-width="0.25" transform="translate(894.1 851.2) rotate(-90) translate(0 12.17) scale(0.92 1.0)">7.00'</text>
<text x="0.7965" y="0" font-size="34" text-anchor="middle" letter-spacing="1.593" stroke="#000" stroke-width="0.25" transform="translate(852.4 1020) rotate(-90) translate(0 12.17) scale(0.92 1.0)">10.00'</text>
<text x="0.7965" y="0" font-size="34" text-anchor="middle" letter-spacing="1.593" stroke="#000" stroke-width="0.25" transform="translate(914.9 1013.7) rotate(-90) translate(0 12.17) scale(0.92 1.0)">13.50'</text>
<text x="0.7965" y="0" font-size="34" text-anchor="middle" letter-spacing="1.593" stroke="#000" stroke-width="0.25" transform="translate(179.6 1090.3) rotate(-90) translate(0 12.17) scale(0.92 1.0)">16.00'</text>
<text x="0.7895" y="0" font-size="34" text-anchor="middle" letter-spacing="1.579" stroke="#000" stroke-width="0.25" transform="translate(860.7 1169.4) rotate(-90) translate(0 12.17) scale(0.92 1.0)">6.25'</text>
<text x="0.7895" y="0" font-size="34" text-anchor="middle" letter-spacing="1.579" stroke="#000" stroke-width="0.25" transform="translate(425.7 1275.5) rotate(-90) translate(0 12.17) scale(0.92 1.0)">1.75'</text>
<text x="0.7895" y="0" font-size="34" text-anchor="middle" letter-spacing="1.579" stroke="#000" stroke-width="0.25" transform="translate(634.6 1276) rotate(-90) translate(0 12.17) scale(0.92 1.0)">1.75'</text>
<text x="0.774" y="0" font-size="34" text-anchor="middle" letter-spacing="1.548" stroke="#000" stroke-width="0.25" transform="translate(847 1360) rotate(-90) translate(0 12.17) scale(0.92 1.0)">11.50'</text>
<text x="0.7965" y="0" font-size="34" text-anchor="middle" letter-spacing="1.593" stroke="#000" stroke-width="0.25" transform="translate(119.8 1331.6) rotate(-90) translate(0 12.17) scale(0.92 1.0)">14.00'</text>
<text x="0.7895" y="0" font-size="34" text-anchor="middle" letter-spacing="1.579" stroke="#000" stroke-width="0.25" transform="translate(253.1 1455.3) rotate(-90) translate(0 12.17) scale(0.92 1.0)">2.50'</text>
<text x="0.7895" y="0" font-size="34" text-anchor="middle" letter-spacing="1.579" stroke="#000" stroke-width="0.25" transform="translate(876.2 739.2) rotate(56.2) translate(0 12.17) scale(0.92 1.0)">4.16'</text>
<text x="0.7895" y="0" font-size="34" text-anchor="middle" letter-spacing="1.579" stroke="#000" stroke-width="0.25" transform="translate(862.5 942) rotate(-57.7) translate(0 12.17) scale(0.92 1.0)">4.16'</text>
</svg></body></html>
